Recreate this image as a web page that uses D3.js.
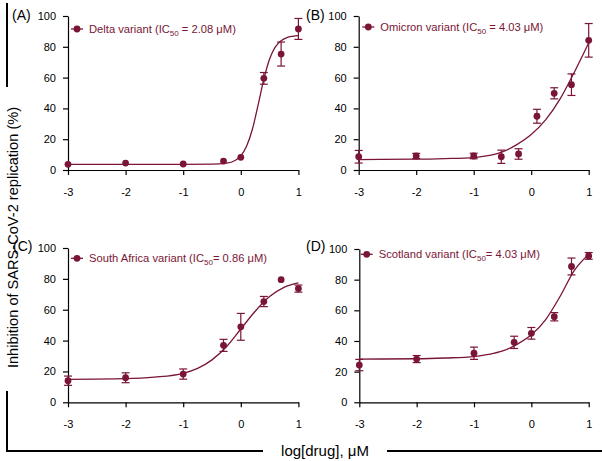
<!DOCTYPE html>
<html>
<head>
<meta charset="utf-8">
<script src="https://cdn.jsdelivr.net/npm/d3@7"></script>
<style>
  body { margin: 0; background: #fff; }
  svg { display: block; font-family: "Liberation Sans", Arial, sans-serif; }
</style>
</head>
<body>
<div id="chart"></div>
<script>
// ticks
var xTicks = [-3, -2, -1, 0, 1];
var yTicks = [0, 20, 40, 60, 80, 100];

// (A) Delta
var deltaX = [-3, -2, -1, -0.3, 0, 0.4, 0.7, 1];
var deltaY = [3.7, 4.5, 3.9, 5.8, 8.2, 59.5, 75.3, 91.6];
var deltaErr = [0, 0, 0, 0, 0, 3.8, 7.8, 6.8];
var deltaFitX = [-3, -2, -1, -0.5, -0.25, -0.1, 0, 0.1, 0.2, 0.3, 0.4, 0.5, 0.6, 0.7, 0.8, 0.9, 1];
var deltaFitY = [3.7, 3.7, 3.7, 3.8, 4.4, 6.2, 9.2, 15.4, 26.3, 42.1, 59.0, 72.1, 80.0, 84.0, 86.0, 86.8, 87.2];

// (B) Omicron
var omicronX = [-3, -2, -1, -0.52, -0.22, 0.1, 0.4, 0.7, 1];
var omicronY = [8.6, 9.1, 9.1, 8.6, 10.4, 34.9, 49.8, 55.4, 84.2];
var omicronErr = [4.1, 1.7, 1.8, 4.3, 3.4, 4.5, 3.6, 7, 10.9];
var omicronFitX = [-3, -2, -1.5, -1, -0.75, -0.5, -0.25, 0, 0.25, 0.5, 0.75, 1];
var omicronFitY = [6.8, 7.0, 7.4, 8.1, 9.3, 11.8, 16.5, 23, 32.5, 46, 63.5, 82.5];

// (C) South Africa
var southAfricaX = [-3, -2, -1, -0.3, 0, 0.4, 0.7, 1];
var southAfricaY = [14, 15.9, 18.3, 36.9, 48.9, 65.3, 79.5, 73.7];
var southAfricaErr = [3, 3.2, 3.3, 3.9, 8.7, 3.3, 0, 2.3];
var southAfricaFitX = [-3, -2, -1.5, -1, -0.75, -0.5, -0.25, 0, 0.25, 0.5, 0.75, 1];
var southAfricaFitY = [14.9, 15.3, 16.3, 18.8, 22, 27.5, 36, 47.5, 59, 68.5, 74.5, 77.4];

// (D) Scotland
var scotlandX = [-3, -2, -1, -0.3, 0, 0.4, 0.7, 1];
var scotlandY = [24.3, 28.2, 32, 39.1, 45, 55.8, 88.6, 95.5];
var scotlandErr = [3.7, 2.3, 4, 4, 3.8, 2.7, 5.5, 2.2];
var scotlandFitX = [-3, -2, -1.5, -1, -0.75, -0.5, -0.25, 0, 0.25, 0.5, 0.75, 1];
var scotlandFitY = [28.2, 28.4, 28.9, 29.8, 31.2, 33.5, 37.8, 44, 54, 69, 86, 96.5];

var panelTags = ['(A)', '(B)', '(C)', '(D)'];
var variantNames = ['Delta variant', 'Omicron variant', 'South Africa variant', 'Scotland variant'];
var ic50Texts = [' = 2.08 \u03bcM)', ' = 4.03 \u03bcM)', '= 0.86 \u03bcM)', '= 4.03 \u03bcM)'];

(function() {
  var width = 602
    , height = 461
    , color = '#7a1535'
    ;

  var series = [
    { x: deltaX, y: deltaY, err: deltaErr, fx: deltaFitX, fy: deltaFitY },
    { x: omicronX, y: omicronY, err: omicronErr, fx: omicronFitX, fy: omicronFitY },
    { x: southAfricaX, y: southAfricaY, err: southAfricaErr, fx: southAfricaFitX, fy: southAfricaFitY },
    { x: scotlandX, y: scotlandY, err: scotlandErr, fx: scotlandFitX, fy: scotlandFitY }
  ];

  // pixel frames of the four plots
  var frames = [
    { x0: 68, x1: 298.4, y0: 170, y1: 16, tagX: 12, tagY: 20, legX: 77, legY: 29 },
    { x0: 358.7, x1: 588.7, y0: 170, y1: 16, tagX: 306, tagY: 20, legX: 368.3, legY: 27 },
    { x0: 68, x1: 298.4, y0: 402.3, y1: 248, tagX: 13, tagY: 251, legX: 77, legY: 258.3 },
    { x0: 359.3, x1: 588.7, y0: 402.3, y1: 249, tagX: 306, tagY: 251, legX: 366.7, legY: 254.3 }
  ];

  var svg = d3.select('#chart')
    .append('svg')
      .attr('width', width)
      .attr('height', height);

  frames.forEach(function(f, i) {
    var s = series[i]
      , x = d3.scaleLinear().domain([-3, 1]).range([f.x0, f.x1])
      , y = d3.scaleLinear().domain([0, 100]).range([f.y0, f.y1])
      , g = svg.append('g')
      ;

    var gx = g.append('g')
      .attr('transform', 'translate(0,' + f.y0 + ')')
      .call(d3.axisBottom(x).tickValues(xTicks).tickSize(5).tickSizeOuter(0).tickPadding(13)
        .tickFormat(d3.format('d')));
    var gy = g.append('g')
      .attr('transform', 'translate(' + f.x0 + ',0)')
      .call(d3.axisLeft(y).tickValues(yTicks).tickSize(5).tickSizeOuter(0).tickPadding(7));

    [gx, gy].forEach(function(a) {
      a.selectAll('text').attr('font-size', 11).attr('fill', '#000')
        .attr('font-family', '"Liberation Sans", Arial, sans-serif');
      a.select('.domain').attr('stroke', '#000').attr('stroke-width', 1.2);
      a.selectAll('.tick line').attr('stroke', '#000').attr('stroke-width', 1.2);
    });
    gx.selectAll('text').text(function(d) { return d < 0 ? '-' + Math.abs(d) : d; });

    // fitted curve
    var fit = s.fx.map(function(d, j) { return [d, s.fy[j]]; });
    g.append('path')
      .datum(fit)
      .attr('fill', 'none')
      .attr('stroke', color)
      .attr('stroke-width', 1.3)
      .attr('d', d3.line()
        .x(function(d) { return x(d[0]); })
        .y(function(d) { return y(d[1]); })
        .curve(d3.curveMonotoneX));

    var pts = s.x.map(function(d, j) { return { x: d, y: s.y[j], e: s.err[j] }; });

    // error bars
    var bars = g.selectAll('.err')
      .data(pts.filter(function(d) { return d.e > 0; }))
      .enter().append('g')
        .attr('stroke', color)
        .attr('stroke-width', 1.2);
    bars.append('line')
      .attr('x1', function(d) { return x(d.x); })
      .attr('x2', function(d) { return x(d.x); })
      .attr('y1', function(d) { return y(d.y - d.e); })
      .attr('y2', function(d) { return y(d.y + d.e); });
    [-1, 1].forEach(function(sign) {
      bars.append('line')
        .attr('x1', function(d) { return x(d.x) - 4; })
        .attr('x2', function(d) { return x(d.x) + 4; })
        .attr('y1', function(d) { return y(d.y + sign * d.e); })
        .attr('y2', function(d) { return y(d.y + sign * d.e); });
    });

    g.selectAll('circle')
      .data(pts)
      .enter().append('circle')
        .attr('cx', function(d) { return x(d.x); })
        .attr('cy', function(d) { return y(d.y); })
        .attr('r', 3.4)
        .attr('fill', color);

    // panel tag
    g.append('text')
      .attr('x', f.tagX)
      .attr('y', f.tagY)
      .attr('font-size', 14)
      .text(panelTags[i]);

    // legend
    g.append('line')
      .attr('x1', f.legX - 6).attr('x2', f.legX + 6)
      .attr('y1', f.legY).attr('y2', f.legY)
      .attr('stroke', color).attr('stroke-width', 1.3);
    g.append('circle')
      .attr('cx', f.legX).attr('cy', f.legY).attr('r', 3.4).attr('fill', color);
    var lt = g.append('text')
      .attr('x', f.legX + 12)
      .attr('y', f.legY + 4)
      .attr('font-size', 11.2)
      .attr('fill', color);
    lt.append('tspan').text(variantNames[i] + ' (IC');
    lt.append('tspan').attr('font-size', 8).attr('dy', 3).text('50');
    lt.append('tspan').attr('dy', -3).text(ic50Texts[i]);
  });

  // shared axis titles with bracket lines
  svg.append('text')
    .attr('transform', 'translate(18,237.5) rotate(-90)')
    .attr('text-anchor', 'middle')
    .attr('font-size', 14.6)
    .text('Inhibition of SARS-CoV-2 replication (%)');

  svg.append('text')
    .attr('x', 325)
    .attr('y', 456)
    .attr('text-anchor', 'middle')
    .attr('font-size', 15)
    .text('log[drug], \u03bcM');

  var bracket = svg.append('g').attr('stroke', '#000').attr('stroke-width', 2).attr('fill', 'none');
  bracket.append('line').attr('x1', 7).attr('x2', 7).attr('y1', 3).attr('y2', 87);
  bracket.append('line').attr('x1', 7).attr('x2', 7).attr('y1', 391).attr('y2', 451);
  bracket.append('line').attr('x1', 6).attr('x2', 263).attr('y1', 451).attr('y2', 451);
  bracket.append('line').attr('x1', 387).attr('x2', 602).attr('y1', 451).attr('y2', 451);
})();
</script>
</body>
</html>
